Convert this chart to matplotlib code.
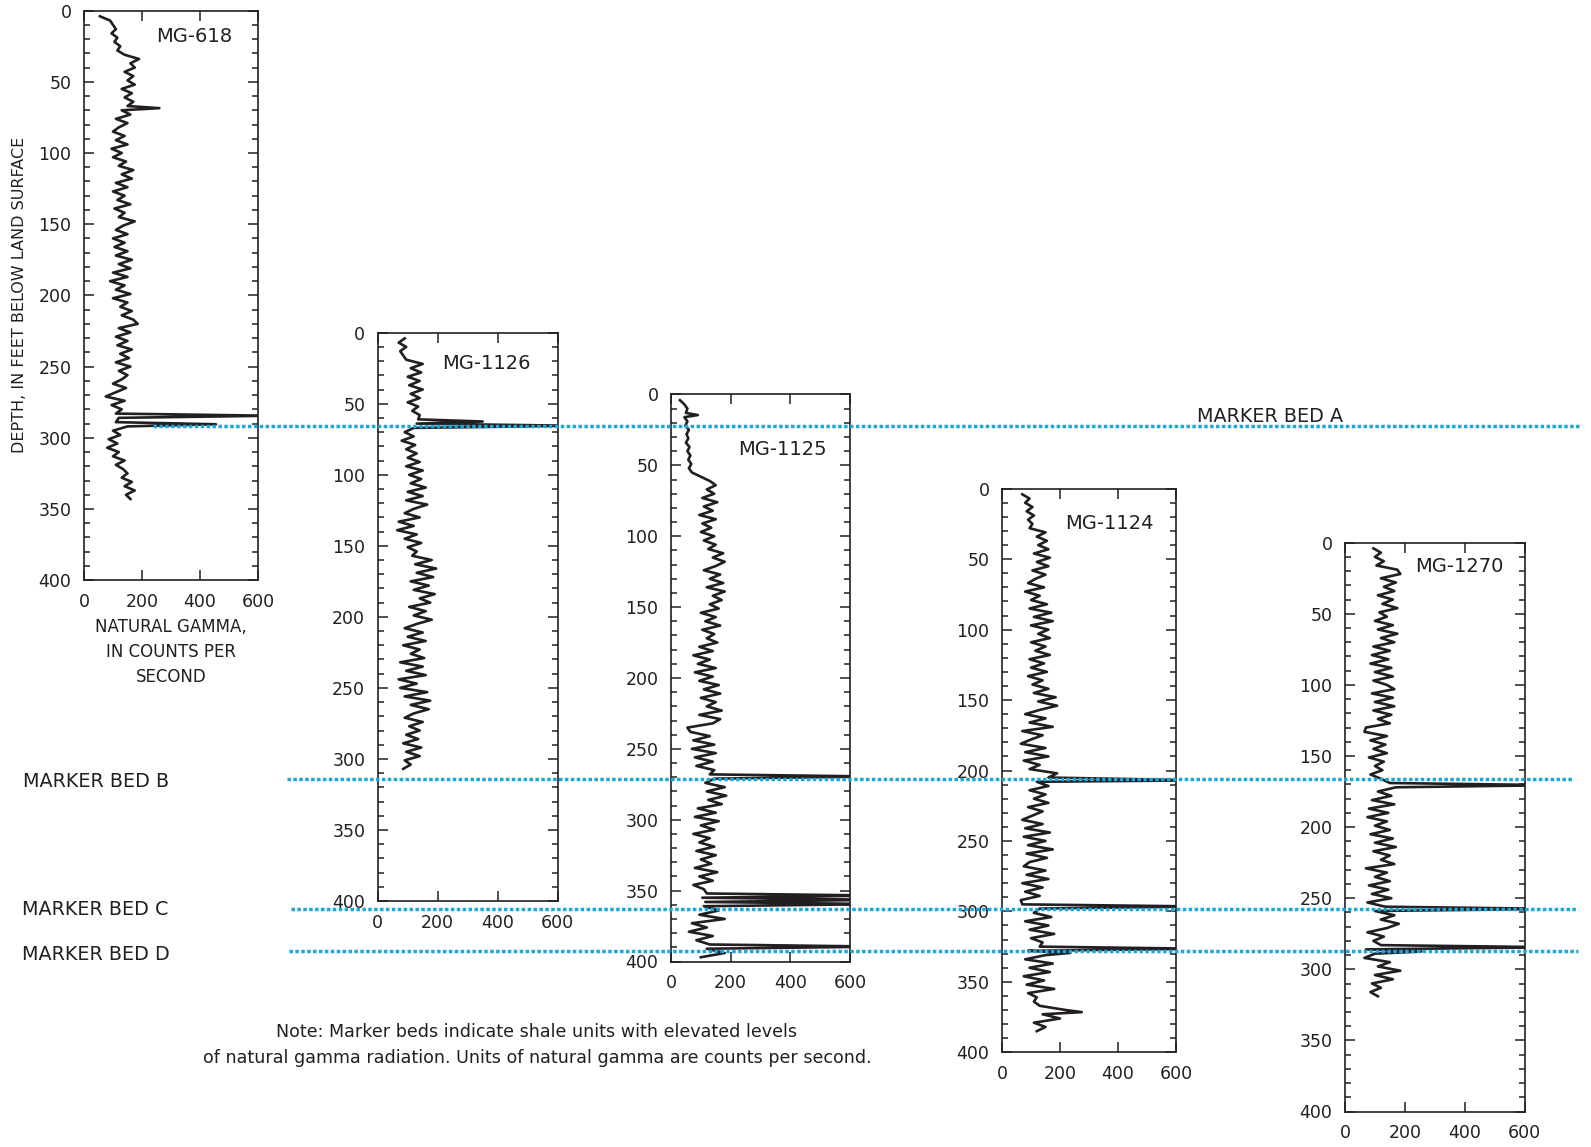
import numpy as np
import matplotlib
matplotlib.use("Agg")
import matplotlib.pyplot as plt
from matplotlib.lines import Line2D
from matplotlib.ticker import MultipleLocator

# Natural gamma logs (counts per second), read every 3 ft starting at 4 ft depth
mg618_gamma = [55, 90, 100,
               110, 95, 115, 105, 125, 115,
               140, 190, 160, 175, 140, 170, 150,
               175, 130, 165, 140, 170, 150,
               130, 160, 110, 150, 120,
               100, 140, 110, 150, 95, 130, 100,
               145, 120, 170, 130, 165,
               110, 150, 100, 140, 115, 160,
               105, 140, 120, 175, 135,
               110, 150, 100, 140, 105,
               150, 110, 165, 120, 160, 100,
               150, 90, 140, 110, 160,
               100, 150, 125, 165, 130, 170, 185,
               120, 160, 110, 150, 115, 165, 125, 155,
               110, 160, 120, 150, 130,
               100, 145, 110,
               75, 140, 95, 130, 110,
               120, 110, 150,
               100, 125, 85, 115, 80,
               120, 100, 140, 110, 135,
               150, 130, 165, 140, 175, 145, 160]

mg1126_gamma = [90, 70, 95, 75, 85, 95,
                150, 110, 145,
                100, 140, 105, 150, 110, 140, 100, 135, 115, 140,
                135, 130, 120,
                90, 120, 80, 125, 95, 130, 100,
                140, 95, 150, 105, 145,
                110, 160, 100, 150, 95, 165, 120,
                90, 140, 70, 120, 65, 130, 90, 145, 100, 130, 115,
                180, 125, 195, 130, 185, 110, 170, 120, 190, 140,
                175, 105, 160, 120, 180, 130,
                90, 150, 100, 160, 85, 140, 110, 155,
                75, 150, 95, 160, 70, 130,
                75, 165, 90, 175, 110, 170, 120,
                90, 150, 105, 140, 95, 135,
                85, 145, 95, 140, 90, 110,
                85]

mg1125_gamma = [30, 45, 55,
                50, 45, 55, 48, 60, 52, 58, 50, 62, 55, 65, 58, 68, 60, 70,
                100, 130, 150, 120,
                145, 105, 155, 110, 140, 95, 150, 105, 135, 100, 145, 110, 150, 125,
                175, 140, 180, 150, 110,
                165, 130, 175, 120, 180, 140, 170, 130,
                160, 100, 150, 115, 165, 105, 145, 120, 155, 95, 140,
                75, 130, 90, 150, 80, 140,
                95, 160, 110,
                165, 100, 150, 120, 170, 95, 165, 140,
                55, 65,
                130, 75, 145, 70, 150, 80, 140, 85, 145, 130,
                145, 115, 180, 120, 185, 125, 170,
                90, 150, 80, 160, 100, 145, 75, 130, 95,
                145, 85, 150, 100, 135, 80, 155, 95, 140, 75, 110,
                120, 105, 115, 110,
                160, 95, 180, 70, 120, 60, 140, 85, 130,
                120, 180, 100]

mg1124_gamma = [70, 95, 80, 105, 85, 110, 90, 105, 95,
                150, 120, 155, 125, 160,
                110, 165, 120, 160, 105, 150, 115,
                90, 145, 80, 130, 100, 155,
                95, 170, 110, 175, 100, 160,
                125, 165, 100, 150, 115, 165, 95,
                145, 100, 155, 90, 140, 105,
                160, 110, 185, 125, 190, 130,
                80, 150, 95, 175, 70, 140, 100,
                65, 150, 80, 160, 75, 130,
                95, 190, 160,
                120, 160, 95, 150, 110, 160, 90, 140, 105,
                70, 140, 80, 165, 75, 150, 90, 175, 85, 155, 95,
                75, 150, 85, 160, 70, 140, 80, 130, 65,
                70, 130, 110, 170, 80, 160, 95, 180, 100, 140,
                130, 90, 150, 80, 175, 95, 165, 75, 145, 85, 180, 90, 120,
                110, 130, 220,
                140, 200, 110, 150, 120]

mg1270_gamma = [95, 120, 100, 130, 105,
                175, 185,
                120, 170, 130, 165, 110, 160, 125, 175, 115,
                140, 100, 160, 110, 175, 120, 165, 95,
                150, 90, 145, 85, 155, 100, 160, 95, 140,
                165, 90, 160, 100, 165, 95, 155, 110,
                150, 70, 65, 140,
                85, 135, 95, 140, 80, 130, 100, 125, 85,
                120, 150,
                170, 110, 155, 90, 165, 80, 145, 75, 140, 100, 150,
                85, 160, 100, 170, 95, 150, 120, 165, 70, 140, 100,
                150, 80, 145, 90, 155, 75, 135,
                100, 165, 120, 180, 140, 75, 130, 95, 120,
                70, 100, 65, 150, 110, 185, 100, 160, 90, 120, 85, 110]

# Thin shale beds between readings: depth (ft) and peak counts per second
mg618_peak_depth = [68.5, 284.5, 290.5]
mg618_peak_gamma = [260, 640, 455]
mg1126_peak_depth = [62.5, 65.5]
mg1126_peak_gamma = [350, 650]
mg1125_peak_depth = [14.5, 269.5, 353.5, 356.5, 359.5, 389.5]
mg1125_peak_gamma = [90, 680, 700, 700, 700, 700]
mg1124_peak_depth = [207.0, 296.5, 326.5, 329.5, 371.5]
mg1124_peak_gamma = [680, 680, 680, 235, 275]
mg1270_peak_depth = [170.5, 257.5, 284.5, 287.5]
mg1270_peak_gamma = [700, 700, 700, 255]

log_names = ["MG-618", "MG-1126", "MG-1125", "MG-1124", "MG-1270"]
gamma_ticks = [0, 200, 400, 600]
depth_ticks = list(range(0, 401, 50))

marker_names = ["MARKER BED A", "MARKER BED B", "MARKER BED C", "MARKER BED D"]
# marker bed depths in MG-1125; the correlation lines are hung from this well
marker_depth_mg1125 = [21.9, 271.6, 363.3, 392.9]

NOTE = ("Note: Marker beds indicate shale units with elevated levels\n"
        "of natural gamma radiation. Units of natural gamma are counts per second.")

# ---- layout (pixels) ----
FIG_W, FIG_H = 1591, 1147
PANELS = [  # left, top, right, bottom
    (84, 10.6, 258, 580.2),
    (377.7, 332.7, 557.7, 901),
    (671, 394.5, 850, 961.5),
    (1002, 488.7, 1176, 1052.3),
    (1345, 542.7, 1524.5, 1111.5),
]
TITLE_POS = [(510, 18), (511, 22), (523, 39), (524, 25), (531, 17)]
MARKER_X = [(153, 1580), (287, 1573), (291, 1578), (289, 1578)]
LABEL_X = [1197, 23, 22, 22]
LABEL_DY = [-9.5, 2.5, 0, 3.5]

INK = "#231f20"
CYAN = "#1ba6dc"

plt.rcParams["font.family"] = ["DejaVu Sans"]


def log_series(gamma, peak_depth, peak_gamma):
    """Merge the regular readings with the thin-bed peaks, sorted by depth."""
    depth = 4 + 3 * np.arange(len(gamma))
    d = np.concatenate([depth, peak_depth])
    g = np.concatenate([np.asarray(gamma, float), peak_gamma])
    order = np.argsort(d)
    return d[order], g[order]


def add_log_axes(fig, box, name, title_pos, depth, gamma):
    left, top, right, bottom = box
    ax = fig.add_axes([left / FIG_W, 1 - bottom / FIG_H,
                       (right - left) / FIG_W, (bottom - top) / FIG_H])
    ax.plot(gamma, depth, color=INK, lw=1.9, solid_joinstyle="round")
    ax.set_xlim(0, 600)
    ax.set_ylim(400, 0)
    ax.set_xticks(gamma_ticks)
    ax.set_yticks(depth_ticks)
    ax.yaxis.set_minor_locator(MultipleLocator(10))
    ax.tick_params(which="both", direction="in", left=True, right=True,
                   top=True, bottom=True, colors=INK, labelsize=12.5, width=1.1)
    ax.tick_params(which="major", length=7)
    ax.tick_params(which="minor", length=4)
    ax.tick_params(axis="y", pad=9)
    ax.tick_params(axis="x", pad=9)
    for s in ax.spines.values():
        s.set_color(INK)
        s.set_linewidth(1.2)
    ax.text(title_pos[0], title_pos[1], name, ha="right", va="center",
            fontsize=14, color=INK)
    return ax


fig = plt.figure(figsize=(FIG_W / 100, FIG_H / 100), dpi=100)

logs = [
    log_series(mg618_gamma, mg618_peak_depth, mg618_peak_gamma),
    log_series(mg1126_gamma, mg1126_peak_depth, mg1126_peak_gamma),
    log_series(mg1125_gamma, mg1125_peak_depth, mg1125_peak_gamma),
    log_series(mg1124_gamma, mg1124_peak_depth, mg1124_peak_gamma),
    log_series(mg1270_gamma, mg1270_peak_depth, mg1270_peak_gamma),
]

axes = []
for box, name, tpos, (d, g) in zip(PANELS, log_names, TITLE_POS, logs):
    axes.append(add_log_axes(fig, box, name, tpos, d, g))

# axis titles only on the first log
fig.text(20 / FIG_W, 1 - 295 / FIG_H, "DEPTH, IN FEET BELOW LAND SURFACE",
         rotation=90, ha="center", va="center", fontsize=11.5, color=INK)
fig.text(171 / FIG_W, 1 - 652 / FIG_H, "NATURAL GAMMA,\nIN COUNTS PER\nSECOND",
         ha="center", va="center", fontsize=12, color=INK, linespacing=1.5,
         multialignment="center")

# marker bed correlation lines, drawn over all logs
ref_ax = axes[2]
for name, depth, (x0, x1), lx, dy in zip(marker_names, marker_depth_mg1125,
                                         MARKER_X, LABEL_X, LABEL_DY):
    y_px = ref_ax.transData.transform((0, depth))[1]
    y = y_px / FIG_H
    fig.add_artist(Line2D([x0 / FIG_W, x1 / FIG_W], [y, y], transform=fig.transFigure,
                          color=CYAN, lw=2.5, linestyle=(0, (1, 0.7)),
                          dash_capstyle="butt", zorder=10))
    fig.text(lx / FIG_W, (y_px - dy) / FIG_H, name, ha="left", va="center",
             fontsize=13.8, color=INK)

fig.text(537 / FIG_W, 1 - 1045 / FIG_H, NOTE, ha="center", va="center",
         fontsize=12.6, color=INK, linespacing=1.6, multialignment="center")

fig.savefig("out.png", dpi=100)
